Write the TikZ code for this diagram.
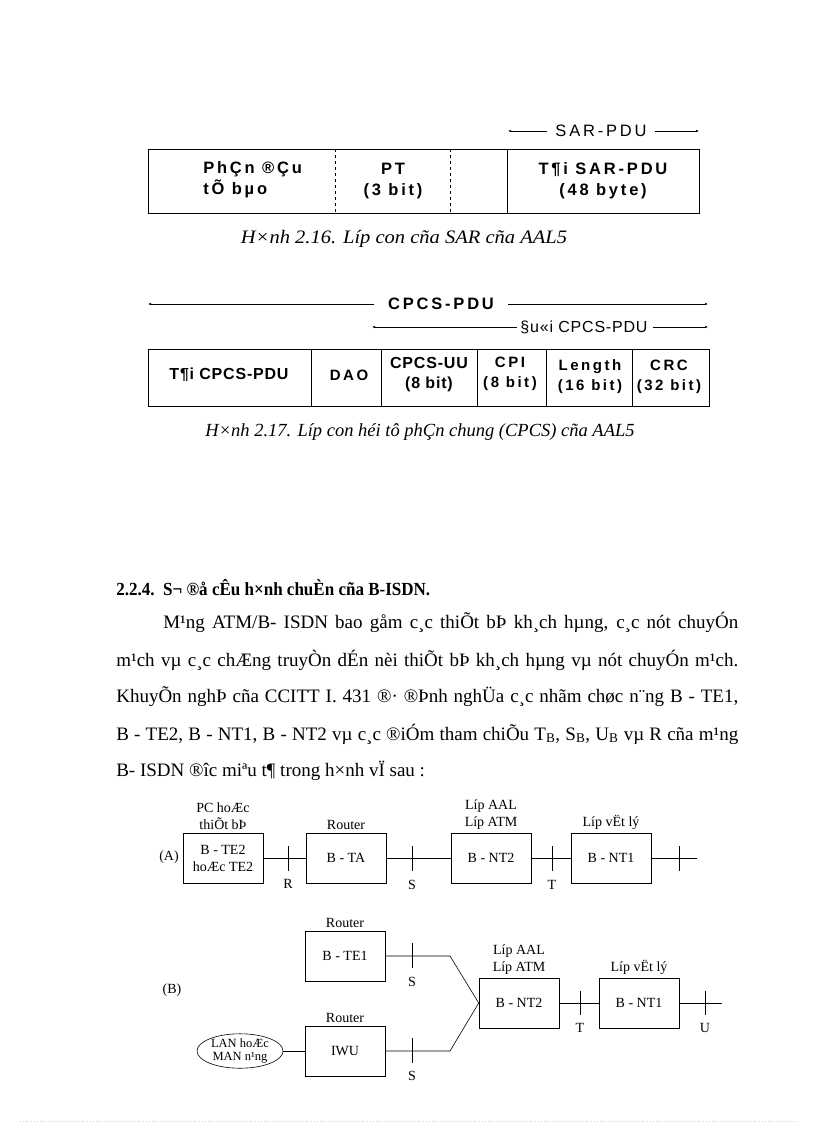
\documentclass[tikz,border=0pt]{standalone}
\usepackage{fontspec}
\setmainfont{Liberation Serif}
\newfontfamily\arialf[LetterSpace=5]{Liberation Sans}
\newfontfamily\arialsp[LetterSpace=17]{Liberation Sans}
\usetikzlibrary{arrows.meta,positioning,shapes.geometric}

\tikzset{
	cellsp/.style={font=\arialsp\bfseries\fontsize{15}{20}\selectfont, align=center, inner sep=0pt},
	cell/.style={font=\arialf\bfseries\fontsize{16}{20}\selectfont, align=center, inner sep=0pt},
	sarcell/.style={font=\arialsp\bfseries\fontsize{16.5}{21}\selectfont, align=center, inner sep=0pt},
	span/.style={-{Latex[length=3pt,width=2.4pt]}, line width=.5pt},
	caption/.style={font=\itshape\fontsize{18.5}{22}\selectfont, inner sep=0pt},
	bodyline/.style={font=\fontsize{19}{23}\selectfont, anchor=west, inner sep=0pt},
	unit/.style={draw, minimum width=80pt, minimum height=50pt, font=\fontsize{14}{17}\selectfont, align=center, inner sep=1pt},
	tag/.style={font=\fontsize{14}{17}\selectfont, align=center, inner sep=0pt},
}

\begin{document}
\begin{tikzpicture}[x=1pt, y=-1pt, line width=.6pt]
	\useasboundingbox (0,0) rectangle (816,1123);

	% Hinh 2.16 : SAR-PDU
	\node[font=\arialsp\fontsize{16.5}{20}\selectfont, inner sep=0pt] (sarpdu) at (601,131) {SAR-PDU};
	\draw[span] (sarpdu.west) ++(-8,0) -- (508,131);
	\draw[span] (sarpdu.east) ++(8,0) -- (699,131);
	\draw (148,149) rectangle (699,213);
		\draw[dashed, line width=.5pt] (335,149) -- (335,213);
		\draw[dashed, line width=.5pt] (450,149) -- (450,213);
		\draw (507,149) -- (507,213);
	\node[sarcell, align=left, anchor=west] (header) at (203,180) {PhÇn ®Çu\\tÕ bµo};
	\node[sarcell] (pt) at (393,181) {PT\\(3 bit)};
	\node[sarcell] (sarload) at (603,181) {T¶i SAR-PDU\\(48 byte)};
	\node[caption, font=\itshape\fontsize{19}{22}\selectfont] (cap16) at (404,239) {\scalebox{1.08}[1]{H×nh 2.16. Líp con cña SAR cña AAL5}};

	% Hinh 2.17 : CPCS-PDU
	\node[cellsp, font=\arialsp\bfseries\fontsize{16.5}{20}\selectfont] (cpcspdu) at (441,304) {CPCS-PDU};
	\draw[span] (cpcspdu.west) ++(-14,0) -- (148,304);
	\draw[span] (cpcspdu.east) ++(14,0) -- (708,304);
	\node[font=\arialf\fontsize{16}{20}\selectfont, inner sep=0pt] (tail) at (584,327) {§u«i CPCS-PDU};
	\draw[span] (tail.west) ++(-3,0) -- (372,327);
	\draw[span] (tail.east) ++(5,0) -- (708,327);
	\draw (148,349) rectangle (709,406);
	\foreach \x in {311,381,477,546,632}
		\draw (\x,349) -- (\x,406);
	\node[cell] (cpcsload) at (229,375) {T¶i CPCS-PDU};
	\node[cellsp] (dao) at (349,375) {DAO};
	\node[cell] (uu) at (429,375) {CPCS-UU\\(8 bit)};
	\node[cellsp] (cpi) at (510,374) {CPI\\(8 bit)};
	\node[cellsp] (len) at (590,377) {Length\\(16 bit)};
	\node[cellsp] (crc) at (669,377) {CRC\\(32 bit)};
	\node[caption] (cap17) at (420,432) {H×nh 2.17. Líp con héi tô phÇn chung (CPCS) cña AAL5};

	% 2.2.4
	\node[bodyline, font=\bfseries\fontsize{18.5}{23}\selectfont] (sec) at (116,588) {\scalebox{0.92}[1]{2.2.4.\enspace S¬ ®å cÊu h×nh chuÈn cña B-ISDN.}};
	\node[bodyline] (l1) at (163,622) {\makebox[575pt][s]{M¹ng ATM/B- ISDN bao gåm c¸c thiÕt bÞ kh¸ch hµng, c¸c nót chuyÓn}};
	\node[bodyline] (l2) at (116,660) {\makebox[622pt][s]{m¹ch vµ c¸c chÆng truyÒn dÉn nèi thiÕt bÞ kh¸ch hµng vµ nót chuyÓn m¹ch.}};
	\node[bodyline] (l3) at (116,697) {\makebox[622pt][s]{KhuyÕn nghÞ cña CCITT I. 431 ®· ®Þnh nghÜa c¸c nhãm chøc n¨ng B - TE1,}};
	\node[bodyline] (l4) at (116,734) {\makebox[622pt][s]{B - TE2, B - NT1, B - NT2 vµ c¸c ®iÓm tham chiÕu T\textsubscript{B}, S\textsubscript{B}, U\textsubscript{B} vµ R cña m¹ng}};
	\node[bodyline] (l5) at (116,771) {B- ISDN ®îc miªu t¶ trong h×nh vÏ sau :};

	% (A)
	\node[tag] (la) at (169,857) {(A)};
	\node[unit] (te2) at (223,858) {B - TE2\\hoÆc TE2};
	\node[unit] (ta) at (346,858) {B - TA};
	\node[unit] (nt2a) at (491,858) {B - NT2};
	\node[unit] (nt1a) at (611,858) {B - NT1};
	\coordinate (enda) at (697,858);
	\node[tag, above=3pt of te2] {PC hoÆc\\thiÕt bÞ};
	\node[tag, above=3pt of ta] {Router};
	\node[tag, above=3pt of nt2a] {Líp AAL\\Líp ATM};
	\node[tag, above=3pt of nt1a] {Líp vËt lý};
	\draw (te2) -- (ta) (ta) -- (nt2a) (nt2a) -- (nt1a) (nt1a) -- (enda);
	\draw (288,846) -- (288,871) (412,846) -- (412,871) (552,846) -- (552,871) (679,846) -- (679,871);
	\node[tag] (r) at (288,884) {R};
	\node[tag] (sa) at (412,885) {S};
	\node[tag] (ta2) at (552,885) {T};

	% (B)
	\node[tag] (lb) at (172,990) {(B)};
	\node[unit] (te1) at (345,956) {B - TE1};
	\node[unit] (iwu) at (345,1051) {IWU};
	\node[unit] (nt2b) at (519,1003) {B - NT2};
	\node[unit] (nt1b) at (639,1003) {B - NT1};
	\node[draw, ellipse, minimum width=86pt, minimum height=32pt, inner sep=0pt, font=\fontsize{12.5}{13}\selectfont, align=center] (lan) at (240,1051) {LAN hoÆc\\MAN n¹ng};
	\coordinate (endb) at (722,1003);
	\coordinate (j1) at (450,956);
	\coordinate (j2) at (450,1051);
	\node[tag, above=3pt of te1] {Router};
	\node[tag, above=3pt of iwu] {Router};
	\node[tag, above=3pt of nt2b] {Líp AAL\\Líp ATM};
	\node[tag, above=3pt of nt1b] {Líp vËt lý};
	\draw (te1) -- (j1) -- (nt2b.west);
	\draw (iwu) -- (j2) -- (nt2b.west);
	\draw (lan) -- (iwu);
	\draw (nt2b) -- (nt1b) (nt1b) -- (endb);
	\draw (412,943) -- (412,968) (412,1038) -- (412,1063) (580,991) -- (580,1015) (705,991) -- (705,1015);
	\node[tag] (sb1) at (412,982) {S};
	\node[tag] (sb2) at (412,1076) {S};
	\node[tag] (tb) at (580,1028) {T};
	\node[tag] (ub) at (705,1028) {U};

	% page edge
	\draw[gray!35, dotted, line width=.8pt] (20,1121) -- (796,1121);
\end{tikzpicture}
\end{document}
